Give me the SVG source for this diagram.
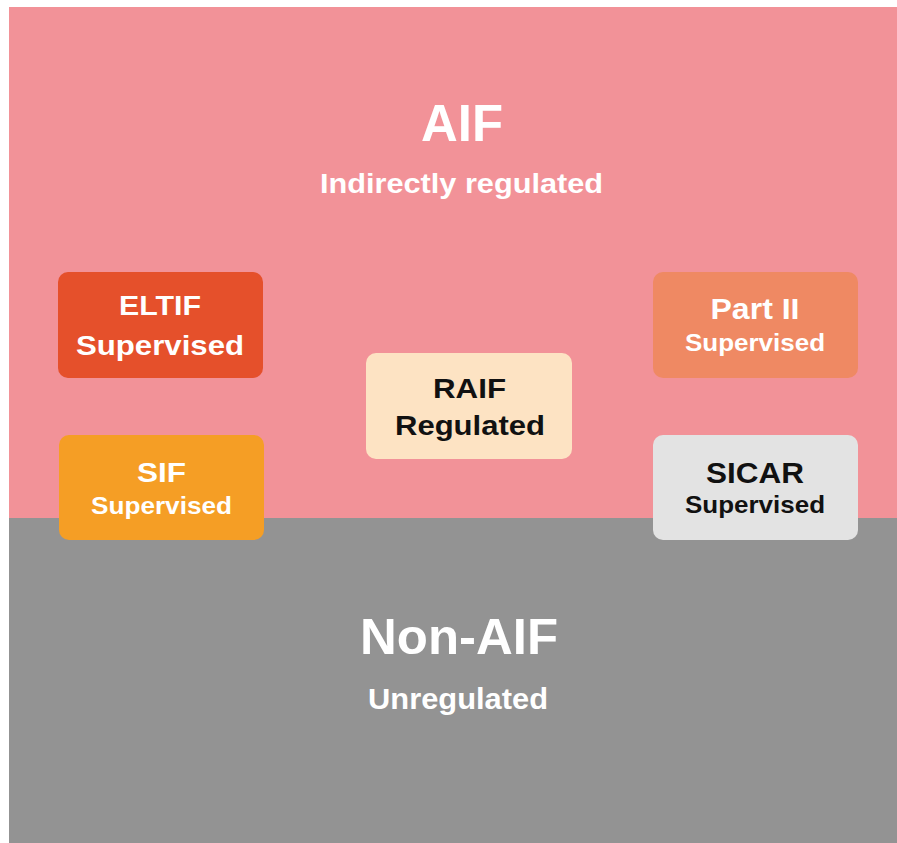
<svg xmlns="http://www.w3.org/2000/svg" width="897" height="843" viewBox="0 0 897 843">
<style>
text{font-family:"Liberation Sans",Arial,sans-serif;font-weight:bold;text-anchor:middle}
.w{fill:#ffffff}
.k{fill:#111111}
.box{rx:10;ry:10}
</style>
<rect x="0" y="0" width="897" height="843" fill="#ffffff"/>
<g id="aif-region">
<rect x="9" y="7" width="888" height="511" fill="#F29298"/>
<text class="w" x="462" y="141" font-size="52" textLength="82" lengthAdjust="spacingAndGlyphs">AIF</text>
<text class="w" x="461.5" y="193" font-size="28" textLength="283" lengthAdjust="spacingAndGlyphs">Indirectly regulated</text>
</g>
<g id="non-aif-region">
<rect x="9" y="518" width="888" height="325" fill="#939393"/>
<text class="w" x="459" y="654" font-size="50" textLength="198" lengthAdjust="spacingAndGlyphs">Non-AIF</text>
<text class="w" x="458" y="709" font-size="30" textLength="180" lengthAdjust="spacingAndGlyphs">Unregulated</text>
</g>
<g id="eltif">
<rect class="box" x="58" y="272" width="205" height="106" fill="#E5502B"/>
<text class="w" x="160" y="315" font-size="28" textLength="82" lengthAdjust="spacingAndGlyphs">ELTIF</text>
<text class="w" x="160" y="355" font-size="28" textLength="168" lengthAdjust="spacingAndGlyphs">Supervised</text>
</g>
<g id="sif">
<rect class="box" x="59" y="435" width="205" height="105" fill="#F59E25"/>
<text class="w" x="161.5" y="482" font-size="28" textLength="49" lengthAdjust="spacingAndGlyphs">SIF</text>
<text class="w" x="161.5" y="514" font-size="24" textLength="141" lengthAdjust="spacingAndGlyphs">Supervised</text>
</g>
<g id="raif">
<rect class="box" x="366" y="353" width="206" height="106" fill="#FDE3C3"/>
<text class="k" x="469.5" y="398" font-size="28" textLength="73" lengthAdjust="spacingAndGlyphs">RAIF</text>
<text class="k" x="470" y="435" font-size="28" textLength="150" lengthAdjust="spacingAndGlyphs">Regulated</text>
</g>
<g id="part-ii">
<rect class="box" x="653" y="272" width="205" height="106" fill="#EF8963"/>
<text class="w" x="755" y="319" font-size="29" textLength="89" lengthAdjust="spacingAndGlyphs">Part II</text>
<text class="w" x="755" y="351" font-size="24" textLength="140" lengthAdjust="spacingAndGlyphs">Supervised</text>
</g>
<g id="sicar">
<rect class="box" x="653" y="435" width="205" height="105" fill="#E3E3E3"/>
<text class="k" x="755" y="483" font-size="29" textLength="98" lengthAdjust="spacingAndGlyphs">SICAR</text>
<text class="k" x="755" y="513" font-size="24" textLength="140" lengthAdjust="spacingAndGlyphs">Supervised</text>
</g>
<g id="connectors"/>
</svg>
